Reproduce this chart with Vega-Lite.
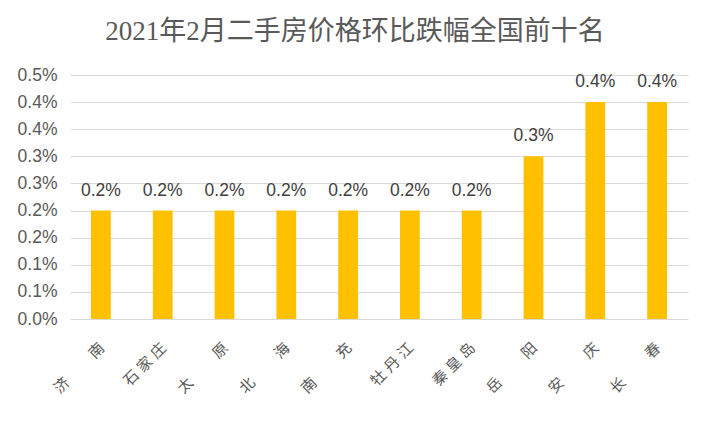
{
  "$schema": "https://vega.github.io/schema/vega-lite/v6.json",
  "autosize": {"type": "none"},
  "width": 618,
  "height": 244,
  "padding": {"left": 70, "top": 75, "right": 21, "bottom": 117},
  "background": "white",
  "title": {
    "text": "2021年2月二手房价格环比跌幅全国前十名",
    "font": "Liberation Serif, Noto Sans CJK SC",
    "fontSize": 27,
    "fontWeight": "normal",
    "color": "#595959",
    "anchor": "middle",
    "dx": -24,
    "offset": 20
  },
  "data": {
    "values": [
      {"city": "济　　   南", "value": 0.002},
      {"city": "石  家  庄", "value": 0.002},
      {"city": "太　　   原", "value": 0.002},
      {"city": "北　　   海", "value": 0.002},
      {"city": "南　　   充", "value": 0.002},
      {"city": "牡  丹  江", "value": 0.002},
      {"city": "秦  皇  岛", "value": 0.002},
      {"city": "岳　　   阳", "value": 0.003},
      {"city": "安　　   庆", "value": 0.004},
      {"city": "长　　   春", "value": 0.004}
    ]
  },
  "encoding": {
    "x": {
      "field": "city",
      "type": "nominal",
      "sort": null,
      "scale": {"paddingInner": 0, "paddingOuter": 0},
      "axis": {
        "title": null,
        "domain": false,
        "ticks": false,
        "labelAngle": -45,
        "labelAlign": "right",
        "labelBaseline": "top",
        "labelPadding": 21,
        "labelOffset": -4,
        "labelFont": "Liberation Sans, Noto Sans CJK SC",
        "labelFontSize": 15,
        "labelColor": "#595959"
      }
    },
    "y": {
      "field": "value",
      "type": "quantitative",
      "scale": {"domain": [0, 0.0045]},
      "axis": {
        "title": null,
        "domain": false,
        "ticks": false,
        "values": [0, 0.0005, 0.001, 0.0015, 0.002, 0.0025, 0.003, 0.0035, 0.004, 0.0045],
        "labelExpr": "format(floor(datum.value*1000+0.5001)/1000, '.1%')",
        "labelFont": "Liberation Sans",
        "labelFontSize": 17.5,
        "labelColor": "#595959",
        "labelPadding": 13,
        "gridColor": "#d9d9d9",
        "gridWidth": 1
      }
    }
  },
  "layer": [
    {
      "mark": {"type": "bar", "color": "#FFC000", "width": {"band": 0.32}}
    },
    {
      "mark": {
        "type": "text",
        "baseline": "alphabetic",
        "dy": -15,
        "font": "Liberation Sans",
        "fontSize": 17.5,
        "color": "#404040"
      },
      "encoding": {
        "text": {"field": "value", "type": "quantitative", "format": ".1%"}
      }
    }
  ],
  "config": {"view": {"stroke": null}}
}
